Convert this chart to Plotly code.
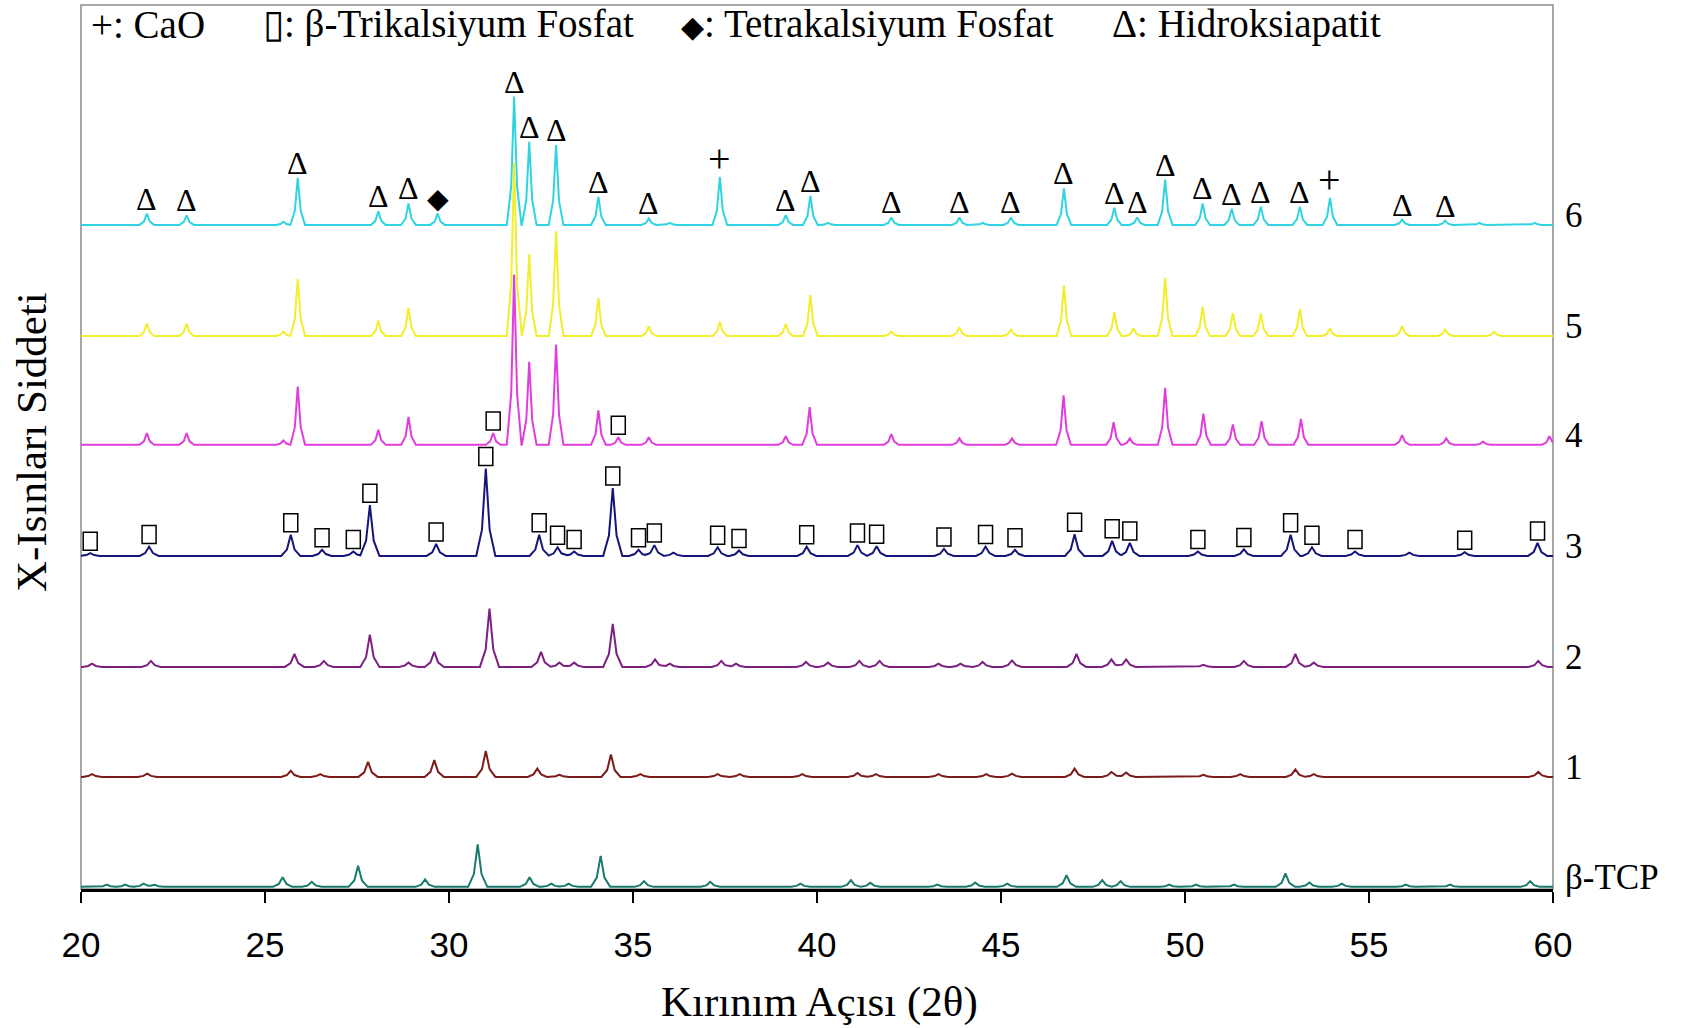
import numpy as np
import plotly.graph_objects as go

# ---------------------------------------------------------------- data
TICKS_2THETA = [20, 25, 30, 35, 40, 45, 50, 55, 60]
SAMPLE_NAMES = ["β-TCP", "1", "2", "3", "4", "5", "6"]
SAMPLE_OFFSETS = [2, 104, 206, 309, 412, 513, 616]   # vertical stacking (a.u.)

# peak positions (2θ, degrees) and peak intensities above baseline (a.u.)
tcp_pos = [20.7, 21.2, 21.7, 22.0, 25.48, 26.27, 27.53, 29.35, 30.78, 32.19, 32.78,
           33.25, 34.12, 35.3, 37.1, 39.55, 40.92, 41.45, 43.27, 44.3, 45.17, 46.78,
           47.75, 48.25, 49.57, 50.3, 51.33, 52.73, 53.38, 54.26, 56.0, 57.2, 59.38]
tcp_int = [2, 2, 3, 2, 9, 4.6, 19.5, 6.8, 39.5, 9, 3,
           3, 28.7, 5.3, 4.6, 3, 6.2, 3.7, 2, 4, 3, 10.8,
           6.2, 5.3, 2, 2, 2, 12.4, 4, 3, 2, 2, 5.3]

s1_pos = [20.3, 21.8, 25.7, 26.5, 27.8, 29.6, 31.0, 32.4, 33.0, 34.4, 35.2, 37.3,
          37.9, 39.6, 41.1, 41.6, 43.3, 44.6, 45.3, 47.0, 48.0, 48.4, 50.5, 51.5,
          53.0, 53.5, 59.6]
s1_int = [2.5, 3, 5.6, 2.5, 14, 15.5, 24, 7.7, 2, 20.7, 2.5, 2.5,
          2.5, 2.5, 3.7, 2.5, 2.5, 2.5, 3, 7.7, 4.6, 4, 2, 2.5,
          7, 2.5, 4.6]

s2_pos = [20.3, 21.9, 25.8, 26.6, 27.85, 28.9, 29.6, 31.1, 32.5, 33.0, 33.4, 34.45,
          35.6, 36.0, 37.4, 37.8, 39.7, 40.3, 41.15, 41.7, 43.3, 43.9, 44.5, 45.3,
          47.05, 48.0, 48.4, 50.5, 51.6, 53.0, 53.5, 59.6]
s2_int = [3, 5.6, 12, 5.6, 30, 4, 14, 54, 14, 4, 4, 40,
          7, 3, 5.6, 3, 4.6, 4, 5.6, 5.6, 3, 3, 4.6, 6,
          12, 7, 7, 2, 5.6, 12, 4, 5.6]

s3_pos = [20.25, 21.85, 25.7, 26.55, 27.4, 27.85, 29.65, 31.0, 32.45, 32.95, 33.4,
          34.45, 35.15, 35.58, 36.1, 37.3, 37.88, 39.72, 41.1, 41.62, 43.45, 44.58,
          45.38, 47.0, 48.02, 48.5, 50.35, 51.6, 52.87, 53.45, 54.62, 56.1, 57.6,
          59.58]
s3_int = [2.5, 8.6, 19.5, 5.6, 4, 47, 11, 81, 19.5, 8, 4,
          63, 5.6, 10, 3, 8, 5, 8.5, 10, 9, 6.5, 8.6,
          5.6, 20, 14, 12, 4, 6, 19.5, 8, 4, 3, 3.4,
          12]

s4_pos = [21.79, 22.87, 25.5, 25.89, 28.08, 28.9, 31.2, 31.77, 32.18, 32.91, 34.06,
          34.6, 35.43, 39.15, 39.8, 42.02, 43.87, 45.3, 46.7, 48.06, 48.5, 49.46,
          50.5, 51.3, 52.08, 53.15, 55.9, 57.1, 58.1, 59.9]
s4_int = [11, 11, 4, 54, 14, 26, 11, 158, 77, 93, 32,
          7, 7, 8, 35, 10, 6, 6, 46, 21, 6, 53,
          29, 19, 22, 24, 9, 6, 3, 8]

s5_pos = [21.79, 22.87, 25.5, 25.89, 28.08, 28.9, 31.77, 32.18, 32.91, 34.06, 35.43,
          37.36, 39.15, 39.82, 42.02, 43.87, 45.27, 46.71, 48.08, 48.6, 49.46, 50.48,
          51.3, 52.06, 53.12, 53.94, 55.9, 57.07, 58.4]
s5_int = [11.5, 11.5, 4, 53, 14, 26, 161, 76, 97, 35, 9,
          13, 11, 38, 4, 8, 6, 47, 22, 7, 54, 27,
          21, 21, 25, 7, 9, 6, 4]

s6_pos = [21.79, 22.87, 25.5, 25.89, 28.08, 28.9, 29.69, 31.77, 32.18, 32.91, 34.06,
          35.43, 36.0, 37.36, 39.15, 39.82, 40.3, 42.02, 43.87, 44.5, 45.27, 46.71,
          48.08, 48.7, 49.46, 50.48, 51.27, 52.06, 53.12, 53.94, 55.9, 57.07, 58.0,
          59.5]
s6_int = [10.4, 8.8, 3, 43.6, 12.6, 20, 10.4, 119, 77, 74, 26,
          6, 2, 44.6, 9, 27, 2, 7, 7, 2, 7, 34,
          16, 7, 42, 20, 15, 17, 17, 25, 5, 4, 2,
          2]

SAMPLE_PEAKS = [(tcp_pos, tcp_int), (s1_pos, s1_int), (s2_pos, s2_int),
                (s3_pos, s3_int), (s4_pos, s4_int), (s5_pos, s5_int), (s6_pos, s6_int)]

# phase assignments (2θ of the labelled reflections)
HA_SAMPLE6 = [21.79, 22.87, 25.89, 28.08, 28.9, 31.77, 32.18, 32.91, 34.06, 35.43,
              39.15, 39.82, 42.02, 43.87, 45.27, 46.71, 48.08, 48.7, 49.46, 50.48,
              51.27, 52.06, 53.12, 55.9, 57.07]
CAO_SAMPLE6 = [37.36, 53.94]
TTCP_SAMPLE6 = [29.69]
TCP_SAMPLE4 = [31.2, 34.6]
TCP_SAMPLE3 = [20.25, 21.85, 25.7, 26.55, 27.4, 27.85, 29.65, 31.0, 32.45, 32.95,
               33.4, 34.45, 35.15, 35.58, 37.3, 37.88, 39.72, 41.1, 41.62, 43.45,
               44.58, 45.38, 47.0, 48.02, 48.5, 50.35, 51.6, 52.87, 53.45, 54.62,
               57.6, 59.58]

# ---------------------------------------------------------------- styling
COLORS = ["#177a6c", "#7a1c1c", "#7e2080", "#16167a", "#e03edc", "#f2ee2c", "#30d4e0"]
# broader reflections for the less crystalline samples
HALF_WIDTHS = [0.26, 0.26, 0.26, 0.26, 0.2, 0.2, 0.2]
SERIF = "Liberation Serif, Times New Roman, serif"
SANS = "Liberation Sans, Arial, sans-serif"


def pattern(pos, inten, w):
    """Piecewise-linear diffraction profile built from a list of reflections."""
    knots = (-w, -0.4 * w, 0.0, 0.4 * w, w)
    xs = {20.0, 60.0}
    for c in pos:
        for d in knots:
            if 20.0 <= c + d <= 60.0:
                xs.add(round(c + d, 4))
    xs = np.array(sorted(xs))
    ys = np.zeros_like(xs)
    for c, h in zip(pos, inten):
        ys += np.interp(xs, [c + d for d in knots], [0, 0.3 * h, h, 0.3 * h, 0])
    return xs, ys


def top_of(idx, at):
    pos, inten = SAMPLE_PEAKS[idx]
    xs, ys = pattern(pos, inten, HALF_WIDTHS[idx])
    near = np.abs(xs - at) <= 0.05
    return SAMPLE_OFFSETS[idx] + float(ys[near].max())


fig = go.Figure()
# upper patterns first so that each lower pattern's tall reflections sit on top
for i in reversed(range(len(SAMPLE_NAMES))):
    pos, inten = SAMPLE_PEAKS[i]
    x, y = pattern(pos, inten, HALF_WIDTHS[i])
    fig.add_trace(go.Scatter(x=x, y=y + SAMPLE_OFFSETS[i], mode="lines",
                             name=SAMPLE_NAMES[i],
                             line=dict(color=COLORS[i], width=2), hoverinfo="skip",
                             showlegend=False))

annotations = []
shapes = []

# phase symbols above the reflections of sample 6
for p in HA_SAMPLE6:
    annotations.append(dict(x=p, y=top_of(6, p), text="Δ",
                            showarrow=False, yanchor="bottom", yshift=-5,
                            font=dict(family=SERIF, size=32, color="black")))
for p in CAO_SAMPLE6:
    annotations.append(dict(x=p, y=top_of(6, p), text="+",
                            showarrow=False, yanchor="bottom", yshift=-6,
                            font=dict(family=SERIF, size=40, color="black")))
for p in TTCP_SAMPLE6:
    annotations.append(dict(x=p, y=top_of(6, p), text="◆",
                            showarrow=False, yanchor="bottom", yshift=-3,
                            font=dict(family="DejaVu Sans", size=28, color="black")))

# β-TCP boxes for samples 4 and 3
for idx, plist in ((4, TCP_SAMPLE4), (3, TCP_SAMPLE3)):
    for p in plist:
        shapes.append(dict(type="rect", xref="x", yref="y",
                           xsizemode="pixel", ysizemode="pixel",
                           xanchor=p, yanchor=top_of(idx, p),
                           x0=-7, x1=7, y0=3, y1=21,
                           line=dict(color="black", width=1.5), fillcolor="rgba(0,0,0,0)",
                           layer="above"))

# sample labels on the right
for name, off in zip(SAMPLE_NAMES, SAMPLE_OFFSETS):
    annotations.append(dict(x=1, xref="paper", y=off, yref="y", xanchor="left",
                            yanchor="middle", xshift=10, yshift=9, text=name,
                            showarrow=False,
                            font=dict(family=SERIF, size=35, color="black")))

# phase key across the top
key = [(0.0054, "+: CaO"),
       (0.1225, "▯: β-Trikalsiyum Fosfat"),
       (0.406, "<span style='font-size:30px'>◆</span>: Tetrakalsiyum Fosfat"),
       (0.699, "Δ: Hidroksiapatit")]
for xp, txt in key:
    annotations.append(dict(x=xp, xref="paper", y=0.9785, yref="paper",
                            xanchor="left", yanchor="middle", text=txt, showarrow=False,
                            font=dict(family=SERIF, size=39, color="black")))

# axis titles
annotations.append(dict(x=0.5014, xref="paper", y=-0.128, yref="paper",
                        text="Kırınım Açısı (2θ)", showarrow=False,
                        xanchor="center", yanchor="middle",
                        font=dict(family=SERIF, size=43, color="black")))
annotations.append(dict(x=-0.0333, xref="paper", y=0.5057, yref="paper",
                        text="X-Isınları Siddeti", showarrow=False, textangle=-90,
                        xanchor="center", yanchor="middle",
                        font=dict(family=SERIF, size=43, color="black")))

# plot frame
shapes.append(dict(type="rect", xref="paper", yref="paper", x0=0, x1=1, y0=0, y1=1,
                   line=dict(color="#8c8c8c", width=1.5), layer="below"))

fig.update_layout(
    width=1689, height=1028,
    margin=dict(l=81, r=136, t=5, b=139),
    paper_bgcolor="white", plot_bgcolor="white",
    annotations=annotations, shapes=shapes,
    xaxis=dict(range=[20, 60], tickvals=TICKS_2THETA, ticks="outside", ticklen=11,
               tickwidth=2, tickcolor="black", showline=True, linecolor="black",
               linewidth=2.5, showgrid=False, zeroline=False,
               tickfont=dict(family=SANS, size=35, color="black"),
               ticklabelstandoff=12),
    yaxis=dict(range=[0, 820], showticklabels=False, showgrid=False, zeroline=False,
               ticks="", showline=False),
)

fig.write_html("out.html")
